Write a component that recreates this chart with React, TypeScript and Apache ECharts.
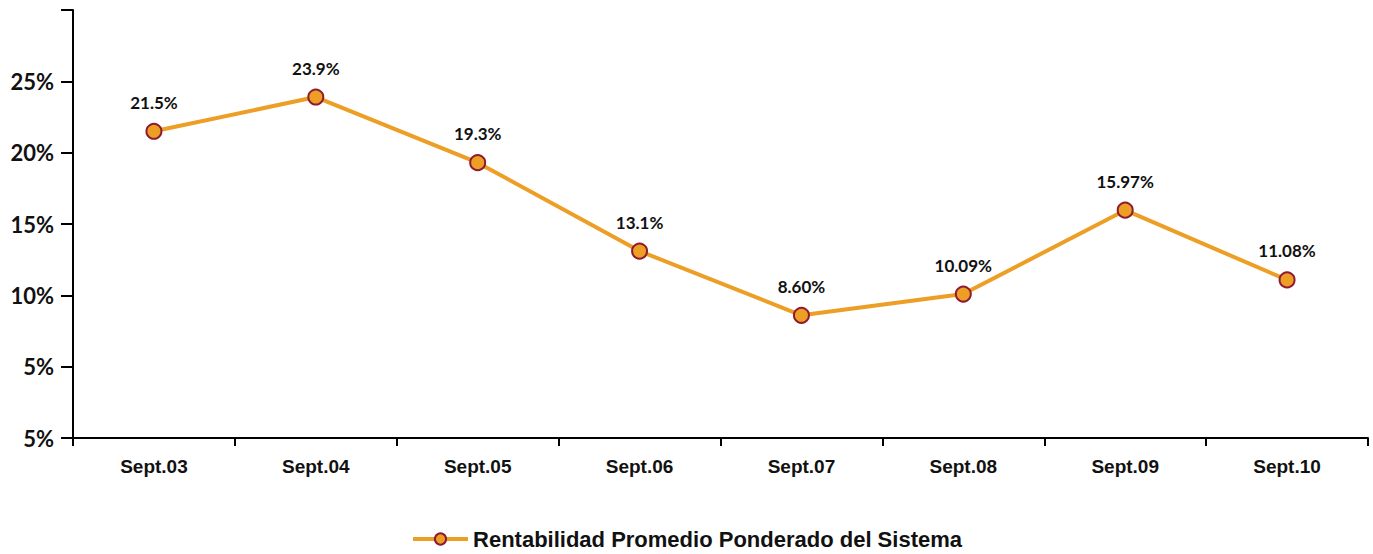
import React, { useEffect, useRef } from "react";
import * as echarts from "echarts";

const categories = ["Sept.03", "Sept.04", "Sept.05", "Sept.06", "Sept.07", "Sept.08", "Sept.09", "Sept.10"];
const values = [21.5, 23.9, 19.3, 13.1, 8.6, 10.09, 15.97, 11.08];
const valueLabels = ["21.5%", "23.9%", "19.3%", "13.1%", "8.60%", "10.09%", "15.97%", "11.08%"];
const yTickValues = [0, 5, 10, 15, 20, 25, 30];
const yTickLabels = ["5%", "5%", "10%", "15%", "20%", "25%", ""];
const seriesName = "Rentabilidad Promedio Ponderado del Sistema";

export default function App() {
  const ref = useRef<HTMLDivElement>(null);
  useEffect(() => {
    const chart = echarts.init(ref.current!, undefined, { renderer: "svg" });
    chart.setOption({
      animation: false,
      grid: { left: 73, right: 5, top: 10, bottom: 116, containLabel: false },
      legend: {
        top: 528,
        left: "center",
        padding: 0,
        itemWidth: 55,
        itemHeight: 14,
        itemGap: 8,
        lineStyle: { width: 4 },
        textStyle: { fontFamily: "Liberation Sans", fontWeight: "bold", fontSize: 22, lineHeight: 22, color: "#111" },
        data: [seriesName],
      },
      xAxis: {
        type: "category",
        data: categories,
        boundaryGap: true,
        axisLine: { lineStyle: { color: "#000", width: 2 } },
        axisTick: { show: true, length: 8, lineStyle: { color: "#000", width: 2 }, alignWithLabel: false },
        axisLabel: { margin: 19, fontFamily: "Liberation Sans", fontWeight: "bold", fontSize: 19, color: "#111" },
      },
      yAxis: {
        type: "value",
        min: 0,
        max: 30,
        interval: 5,
        splitLine: { show: false },
        axisLine: { show: true, lineStyle: { color: "#000", width: 2 } },
        axisTick: { show: true, length: 12, lineStyle: { color: "#000", width: 2 } },
        axisLabel: {
          margin: 19,
          fontFamily: "Lato",
          fontWeight: "bold",
          fontSize: 22,
          color: "#111",
          formatter: (v: number) => {
            const i = yTickValues.indexOf(Math.round(v));
            return i >= 0 ? yTickLabels[i] : "";
          },
        },
      },
      series: [
        {
          name: seriesName,
          type: "line",
          data: values,
          symbol: "circle",
          symbolSize: 15,
          lineStyle: { color: "#EC9E25", width: 4 },
          itemStyle: { color: "#EC9E25", borderColor: "#8E1B30", borderWidth: 2 },
          label: {
            show: true,
            position: "top",
            distance: 12,
            fontFamily: "Lato",
            fontWeight: "bold",
            fontSize: 17,
            color: "#111",
            formatter: (p: any) => valueLabels[p.dataIndex],
          },
        },
      ],
    });
    return () => chart.dispose();
  }, []);
  return <div ref={ref} style={{ width: 1373, height: 554, position: "absolute", left: 0, top: 0 }} />;
}
